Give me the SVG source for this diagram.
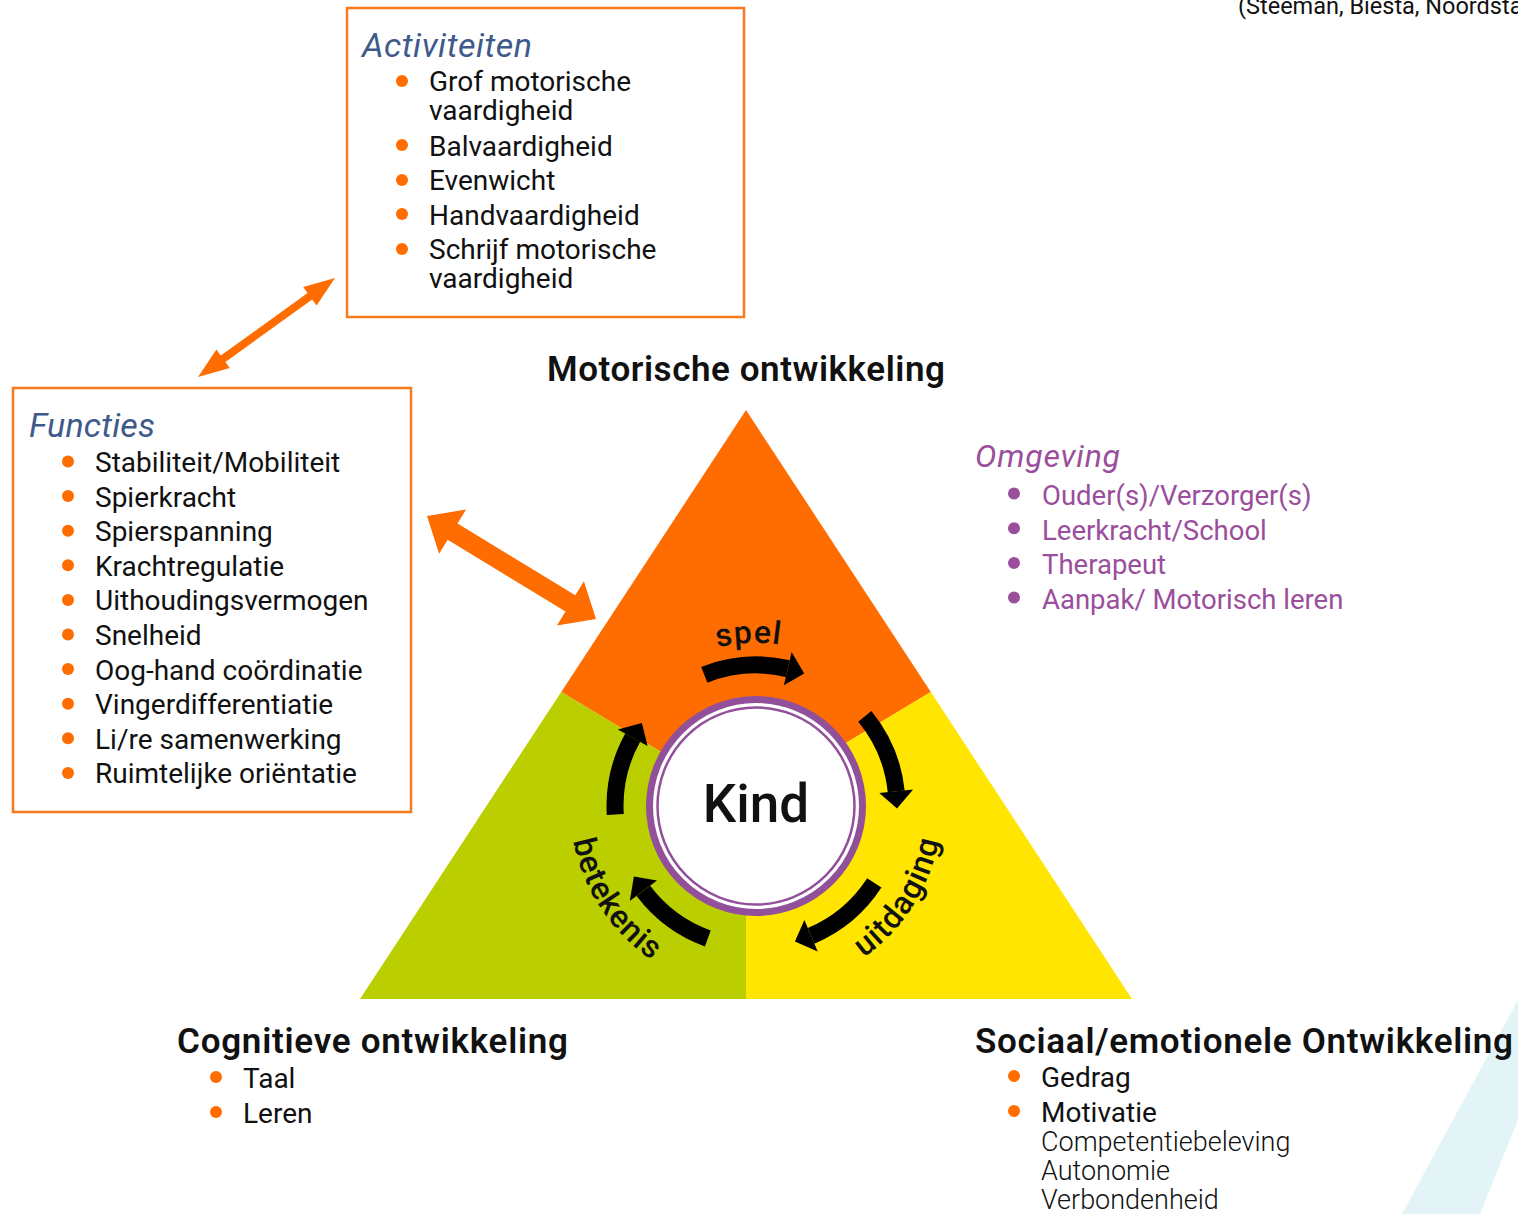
<svg xmlns="http://www.w3.org/2000/svg" width="1518" height="1214" viewBox="0 0 1518 1214">
<style>
text{font-family:Roboto,"Liberation Sans",sans-serif;fill:#111}
.body{font-size:28px;font-weight:400}
.light{font-weight:300}
.hd{font-size:35px;font-weight:600}
.ttl{font-size:34px;font-style:italic;fill:#3D5A8A}
.omg{fill:#9A4E9C}
.dot{fill:#FF6C00}
.pdot{fill:#9A4E9C}
.box{fill:#fff;stroke:#F87A1E;stroke-width:2.5}
.arc{fill:none;stroke:#000;stroke-width:17}
.lbl{font-size:32px;font-weight:500;letter-spacing:1px}
</style>
<defs>
<path id="pSpel" d="M 631.1 701.2 A 163 163 0 0 1 871.3 690.7"/>
<path id="pUit" d="M 788.3 989.2 A 186 186 0 0 0 935.7 757.9"/>
<path id="pBet" d="M 576.3 757.9 A 186 186 0 0 0 730.1 990.2"/>
</defs>
<rect width="1518" height="1214" fill="#fff"/>
<polygon points="1402,1214 1518,1000 1518,1120 1480,1214" fill="#E3F4F7"/>
<text x="1238" y="14" style="font-size:23.5px">(Steeman, Biesta, Noordsta</text>

<g id="triangle">
<polygon points="746,410 930.8,692 746,803 561.2,692" fill="#FF6C00"/>
<polygon points="561.2,692 746,803 746,999 360,999" fill="#BBCE00"/>
<polygon points="930.8,692 1132,999 746,999 746,803" fill="#FFE500"/>
</g>

<g id="kind">
<circle cx="756" cy="806" r="106.5" fill="#fff" stroke="#93509A" stroke-width="7"/>
<circle cx="756" cy="806" r="98.5" fill="none" stroke="#93509A" stroke-width="2.5"/>
<text x="756" y="822" text-anchor="middle" style="font-size:53px;font-weight:500">Kind</text>
</g>

<g id="cycle">
<path class="arc" d="M 704.3 674.8 A 141 141 0 0 1 787.7 668.6"/>
<polygon points="791.6,652.0 804.2,673.5 783.9,685.2"/>
<path class="arc" d="M 864.8 716.3 A 141 141 0 0 1 896.2 791.3"/>
<polygon points="913.1,789.5 897.0,808.5 879.3,793.0"/>
<path class="arc" d="M 874.3 882.8 A 141 141 0 0 1 811.1 935.8"/>
<polygon points="817.7,951.4 794.9,941.5 804.4,920.1"/>
<path class="arc" d="M 707.8 938.5 A 141 141 0 0 1 643.4 890.9"/>
<polygon points="629.8,901.1 633.9,876.5 657.0,880.6"/>
<path class="arc" d="M 615.3 814.6 A 141 141 0 0 1 632.7 737.6"/>
<polygon points="617.8,729.4 641.9,723.1 647.6,745.9"/>
<text class="lbl"><textPath href="#pSpel" startOffset="50%" text-anchor="middle">spel</textPath></text>
<text class="lbl"><textPath href="#pUit" startOffset="50%" text-anchor="middle">uitdaging</textPath></text>
<text class="lbl"><textPath href="#pBet" startOffset="50%" text-anchor="middle">betekenis</textPath></text>
</g>

<g id="connectors">
<polygon fill="#FF6C00" points="198,377 229.8,368.1 225.4,362.0 312.2,299.4 316.6,305.5 335,278 303.2,286.9 307.6,293.0 220.8,355.6 216.4,349.5"/>
<polygon fill="#FF6C00" points="427,516 439.1,553.8 447.7,539.7 565.5,611.5 556.9,625.6 596,619 583.9,581.2 575.3,595.3 457.5,523.5 466.1,509.4"/>
</g>

<g id="activiteiten">
<rect class="box" x="347" y="8" width="397" height="309"/>
<text class="ttl" x="362" y="57" textLength="170">Activiteiten</text>
<circle class="dot" cx="402" cy="81" r="6"/>
<circle class="dot" cx="402" cy="145" r="6"/>
<circle class="dot" cx="402" cy="180" r="6"/>
<circle class="dot" cx="402" cy="214" r="6"/>
<circle class="dot" cx="402" cy="249" r="6"/>
<text class="body" x="429" y="91">Grof motorische</text>
<text class="body" x="429" y="120">vaardigheid</text>
<text class="body" x="429" y="156">Balvaardigheid</text>
<text class="body" x="429" y="190">Evenwicht</text>
<text class="body" x="429" y="225">Handvaardigheid</text>
<text class="body" x="429" y="259">Schrijf motorische</text>
<text class="body" x="429" y="288">vaardigheid</text>
</g>

<g id="functies">
<rect class="box" x="13" y="388" width="398" height="424"/>
<text class="ttl" x="29" y="437" textLength="126">Functies</text>
<g>
<circle class="dot" cx="68" cy="461.5" r="6"/>
<circle class="dot" cx="68" cy="496.1" r="6"/>
<circle class="dot" cx="68" cy="530.7" r="6"/>
<circle class="dot" cx="68" cy="565.3" r="6"/>
<circle class="dot" cx="68" cy="599.9" r="6"/>
<circle class="dot" cx="68" cy="634.5" r="6"/>
<circle class="dot" cx="68" cy="669.1" r="6"/>
<circle class="dot" cx="68" cy="703.7" r="6"/>
<circle class="dot" cx="68" cy="738.3" r="6"/>
<circle class="dot" cx="68" cy="772.9" r="6"/>
</g>
<text class="body" x="95" y="472">Stabiliteit/Mobiliteit</text>
<text class="body" x="95" y="506.6">Spierkracht</text>
<text class="body" x="95" y="541.2">Spierspanning</text>
<text class="body" x="95" y="575.8">Krachtregulatie</text>
<text class="body" x="95" y="610.4">Uithoudingsvermogen</text>
<text class="body" x="95" y="645">Snelheid</text>
<text class="body" x="95" y="679.6">Oog-hand coördinatie</text>
<text class="body" x="95" y="714.2">Vingerdifferentiatie</text>
<text class="body" x="95" y="748.8">Li/re samenwerking</text>
<text class="body" x="95" y="783.4">Ruimtelijke oriëntatie</text>
</g>

<g id="motorisch">
<text class="hd" x="547" y="381" textLength="398">Motorische ontwikkeling</text>
</g>

<g id="omgeving">
<text class="ttl omg" x="975" y="467" style="font-size:32px" textLength="145">Omgeving</text>
<circle class="pdot" cx="1014" cy="493.5" r="6"/>
<circle class="pdot" cx="1014" cy="528.2" r="6"/>
<circle class="pdot" cx="1014" cy="562.9" r="6"/>
<circle class="pdot" cx="1014" cy="597.6" r="6"/>
<text class="body omg" x="1042" y="505" style="font-size:27.5px">Ouder(s)/Verzorger(s)</text>
<text class="body omg" x="1042" y="539.7" style="font-size:27.5px">Leerkracht/School</text>
<text class="body omg" x="1042" y="574.4" style="font-size:27.5px">Therapeut</text>
<text class="body omg" x="1042" y="609.1" style="font-size:27.5px">Aanpak/ Motorisch leren</text>
</g>

<g id="cognitief">
<text class="hd" x="177" y="1053" textLength="391">Cognitieve ontwikkeling</text>
<circle class="dot" cx="216" cy="1077" r="6"/>
<circle class="dot" cx="216" cy="1112" r="6"/>
<text class="body" x="243" y="1088">Taal</text>
<text class="body" x="243" y="1123">Leren</text>
</g>

<g id="sociaal">
<text class="hd" x="975" y="1053" textLength="538">Sociaal/emotionele Ontwikkeling</text>
<circle class="dot" cx="1014" cy="1076" r="6"/>
<circle class="dot" cx="1014" cy="1111" r="6"/>
<text class="body" x="1041" y="1087">Gedrag</text>
<text class="body" x="1041" y="1122">Motivatie</text>
<text class="body light" x="1041" y="1151" style="font-size:27px">Competentiebeleving</text>
<text class="body light" x="1041" y="1180" style="font-size:27px">Autonomie</text>
<text class="body light" x="1041" y="1209" style="font-size:27px">Verbondenheid</text>
</g>
</svg>
